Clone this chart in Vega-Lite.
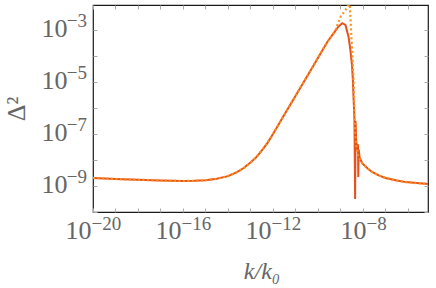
{
  "$schema": "https://vega.github.io/schema/vega-lite/v6.json",
  "width": 335,
  "height": 207,
  "autosize": {"type": "none"},
  "padding": {"left": 93, "top": 5, "right": 8, "bottom": 76},
  "background": "white",
  "config": {
    "view": {"stroke": "#1a1a1a", "strokeWidth": 1.2},
    "axis": {
      "domain": false,
      "grid": false,
      "labelFont": "Liberation Serif",
      "titleFont": "Liberation Serif",
      "labelColor": "#666666",
      "titleColor": "#666666",
      "tickColor": "#aaaaaa",
      "labelFlush": false,
      "labelOverlap": false,
      "labelBound": false,
      "titleFontWeight": "normal"
    }
  },
  "datasets": {
    "solid": [
      {"k": 1e-20, "D": 2.04e-9}, {"k": 1e-19, "D": 1.86e-9}, {"k": 1e-18, "D": 1.74e-9},
      {"k": 1e-17, "D": 1.62e-9}, {"k": 1e-16, "D": 1.55e-9}, {"k": 3.16e-16, "D": 1.58e-9},
      {"k": 1e-15, "D": 1.66e-9}, {"k": 3.16e-15, "D": 1.91e-9}, {"k": 1e-14, "D": 2.40e-9},
      {"k": 2.51e-14, "D": 3.39e-9}, {"k": 5.01e-14, "D": 4.90e-9}, {"k": 1e-13, "D": 7.94e-9},
      {"k": 1.78e-13, "D": 1.26e-8}, {"k": 3.16e-13, "D": 2.29e-8}, {"k": 5.62e-13, "D": 4.47e-8},
      {"k": 1e-12, "D": 1e-7}, {"k": 2.0e-12, "D": 2.75e-7}, {"k": 3.98e-12, "D": 7.59e-7},
      {"k": 1e-11, "D": 2.88e-6}, {"k": 2.51e-11, "D": 1.12e-5},
      {"k": 5.62e-11, "D": 3.63e-5}, {"k": 1.26e-10, "D": 1.20e-4}, {"k": 2.51e-10, "D": 3.31e-4},
      {"k": 5.01e-10, "D": 7.59e-4}, {"k": 7.94e-10, "D": 1.32e-3}, {"k": 1.20e-9, "D": 1.82e-3},
      {"k": 1.66e-9, "D": 1.55e-3}, {"k": 2.29e-9, "D": 5.37e-4}, {"k": 2.75e-9, "D": 1.70e-4},
      {"k": 3.24e-9, "D": 4.47e-5}, {"k": 3.55e-9, "D": 1.20e-5}, {"k": 3.80e-9, "D": 2.51e-6},
      {"k": 4.17e-9, "D": 3.98e-7}, {"k": 4.47e-9, "D": 3.16e-10}, {"k": 4.68e-9, "D": 3.16e-7},
      {"k": 5.01e-9, "D": 5.01e-8}, {"k": 5.50e-9, "D": 3.16e-8}, {"k": 6.03e-9, "D": 3.98e-8},
      {"k": 6.17e-9, "D": 2.24e-9}, {"k": 6.46e-9, "D": 2.51e-8}, {"k": 7.08e-9, "D": 1.26e-8},
      {"k": 7.94e-9, "D": 1e-8}, {"k": 9.12e-9, "D": 7.59e-9}, {"k": 1.58e-8, "D": 4.79e-9},
      {"k": 2.51e-8, "D": 3.47e-9}, {"k": 5.01e-8, "D": 2.57e-9}, {"k": 1e-7, "D": 2.04e-9},
      {"k": 3.16e-7, "D": 1.62e-9}, {"k": 7.94e-7, "D": 1.41e-9}, {"k": 2.51e-6, "D": 1.29e-9},
      {"k": 7.94e-6, "D": 1.20e-9}
    ],
    "dotted": [
      {"k": 1e-20, "D": 2.04e-9}, {"k": 1e-19, "D": 1.86e-9}, {"k": 1e-18, "D": 1.74e-9},
      {"k": 1e-17, "D": 1.62e-9}, {"k": 1e-16, "D": 1.55e-9}, {"k": 3.16e-16, "D": 1.58e-9},
      {"k": 1e-15, "D": 1.66e-9}, {"k": 3.16e-15, "D": 1.91e-9}, {"k": 1e-14, "D": 2.40e-9},
      {"k": 2.51e-14, "D": 3.39e-9}, {"k": 5.01e-14, "D": 4.90e-9}, {"k": 1e-13, "D": 7.94e-9},
      {"k": 1.78e-13, "D": 1.26e-8}, {"k": 3.16e-13, "D": 2.29e-8}, {"k": 5.62e-13, "D": 4.47e-8},
      {"k": 1e-12, "D": 1e-7}, {"k": 2.0e-12, "D": 2.75e-7}, {"k": 3.98e-12, "D": 7.59e-7},
      {"k": 1e-11, "D": 2.88e-6}, {"k": 2.51e-11, "D": 1.12e-5},
      {"k": 5.62e-11, "D": 3.63e-5}, {"k": 1.26e-10, "D": 1.20e-4}, {"k": 2.51e-10, "D": 3.31e-4},
      {"k": 5.01e-10, "D": 7.59e-4}, {"k": 6.03e-10, "D": 1e-3}, {"k": 1e-9, "D": 3.16e-3},
      {"k": 1.66e-9, "D": 5.89e-3}, {"k": 2.29e-9, "D": 9.12e-3}, {"k": 2.45e-9, "D": 1.2e-2},
      {"k": 2.63e-9, "D": 7.94e-3}, {"k": 3.16e-9, "D": 3.16e-4}, {"k": 3.80e-9, "D": 1.20e-5},
      {"k": 4.17e-9, "D": 3.98e-7}, {"k": 4.90e-9, "D": 3.98e-8}, {"k": 6.31e-9, "D": 1.26e-8},
      {"k": 7.94e-9, "D": 9.55e-9}, {"k": 9.12e-9, "D": 7.59e-9}, {"k": 1.58e-8, "D": 4.79e-9},
      {"k": 2.51e-8, "D": 3.47e-9}, {"k": 5.01e-8, "D": 2.57e-9}, {"k": 1e-7, "D": 2.04e-9},
      {"k": 3.16e-7, "D": 1.62e-9}, {"k": 7.94e-7, "D": 1.41e-9}, {"k": 2.51e-6, "D": 1.29e-9},
      {"k": 7.94e-6, "D": 1.20e-9}
    ]
  },
  "layer": [
    {
      "data": {"name": "solid"},
      "mark": {"type": "line", "color": "#e8501c", "strokeWidth": 2, "clip": true},
      "encoding": {
        "x": {"field": "k", "type": "quantitative",
              "scale": {"type": "log", "domain": [1e-20, 7.76e-6], "nice": false},
              "axis": {"orient": "bottom", "title": null, "labels": false, "ticks": true, "tickSize": 4, "offset": -4,
                       "values": [1e-20, 1e-19, 1e-18, 1e-17, 1e-16, 1e-15, 1e-14, 1e-13, 1e-12, 1e-11, 1e-10, 1e-9, 1e-8, 1e-7, 1e-6]}},
        "y": {"field": "D", "type": "quantitative",
              "scale": {"type": "log", "domain": [1e-10, 9.1e-3], "nice": false},
              "axis": {"orient": "left", "title": null, "labels": false, "ticks": true, "tickSize": 4, "offset": -4,
                       "values": [1e-10, 1e-9, 1e-8, 1e-7, 1e-6, 1e-5, 1e-4, 1e-3]}}
      }
    },
    {
      "data": {"name": "dotted"},
      "mark": {"type": "line", "color": "#f7921e", "strokeWidth": 2.2, "strokeDash": [2, 2.5], "clip": true},
      "encoding": {
        "x": {"field": "k", "type": "quantitative",
              "axis": {"orient": "top", "title": null, "labels": false, "ticks": true, "tickSize": 4, "offset": -4,
                       "values": [1e-20, 1e-19, 1e-18, 1e-17, 1e-16, 1e-15, 1e-14, 1e-13, 1e-12, 1e-11, 1e-10, 1e-9, 1e-8, 1e-7, 1e-6]}},
        "y": {"field": "D", "type": "quantitative",
              "axis": {"orient": "right", "title": null, "labels": false, "ticks": true, "tickSize": 4, "offset": -4,
                       "values": [1e-10, 1e-9, 1e-8, 1e-7, 1e-6, 1e-5, 1e-4, 1e-3]}}
      }
    },
    {
      "data": {"name": "solid"},
      "mark": {"type": "line", "opacity": 0, "clip": true},
      "encoding": {
        "x": {"field": "k", "type": "quantitative",
              "axis": {"orient": "bottom", "ticks": false, "values": [1e-20, 1e-16, 1e-12, 1e-8],
                       "labelExpr": "'10'", "labelFontSize": 26, "labelAlign": "right", "labelBaseline": "alphabetic",
                       "labelPadding": 26,
                       "labelOffset": {"condition": {"test": "datum.value > 5e-9", "value": 3}, "value": -2},
                       "title": "k/k₀", "titleFontStyle": "italic", "titleFontSize": 24,
                       "titleX": 168.5, "titleY": 66, "titleAlign": "center", "titleBaseline": "alphabetic", "titleAngle": 0}},
        "y": {"field": "D", "type": "quantitative",
              "axis": {"orient": "left", "ticks": false, "values": [1e-9, 1e-7, 1e-5, 1e-3],
                       "labelExpr": "'10'", "labelFontSize": 26, "labelAlign": "right", "labelBaseline": "alphabetic",
                       "labelPadding": 26, "labelOffset": 7,
                       "title": "Δ²", "titleFontSize": 26,
                       "titleX": -76.5, "titleY": 103.5, "titleAngle": -90, "titleAlign": "center", "titleBaseline": "middle"}}
      }
    },
    {
      "data": {"name": "solid"},
      "mark": {"type": "line", "opacity": 0, "clip": true},
      "encoding": {
        "x": {"field": "k", "type": "quantitative",
              "axis": {"orient": "bottom", "ticks": false, "values": [1e-20, 1e-16, 1e-12, 1e-8], "title": null,
                       "labelExpr": "'−' + abs(round(log(datum.value) / LN10))", "labelFontSize": 19,
                       "labelAlign": "left", "labelBaseline": "alphabetic", "labelPadding": 17,
                       "labelOffset": {"condition": {"test": "datum.value > 5e-9", "value": 3}, "value": -2}}},
        "y": {"field": "D", "type": "quantitative",
              "axis": {"orient": "left", "ticks": false, "values": [1e-9, 1e-7, 1e-5, 1e-3], "title": null,
                       "labelExpr": "'−' + abs(round(log(datum.value) / LN10))", "labelFontSize": 19,
                       "labelAlign": "right", "labelBaseline": "alphabetic", "labelPadding": 6.5, "labelOffset": -3}}
      }
    }
  ],
  "resolve": {"axis": {"x": "independent", "y": "independent"}}
}
